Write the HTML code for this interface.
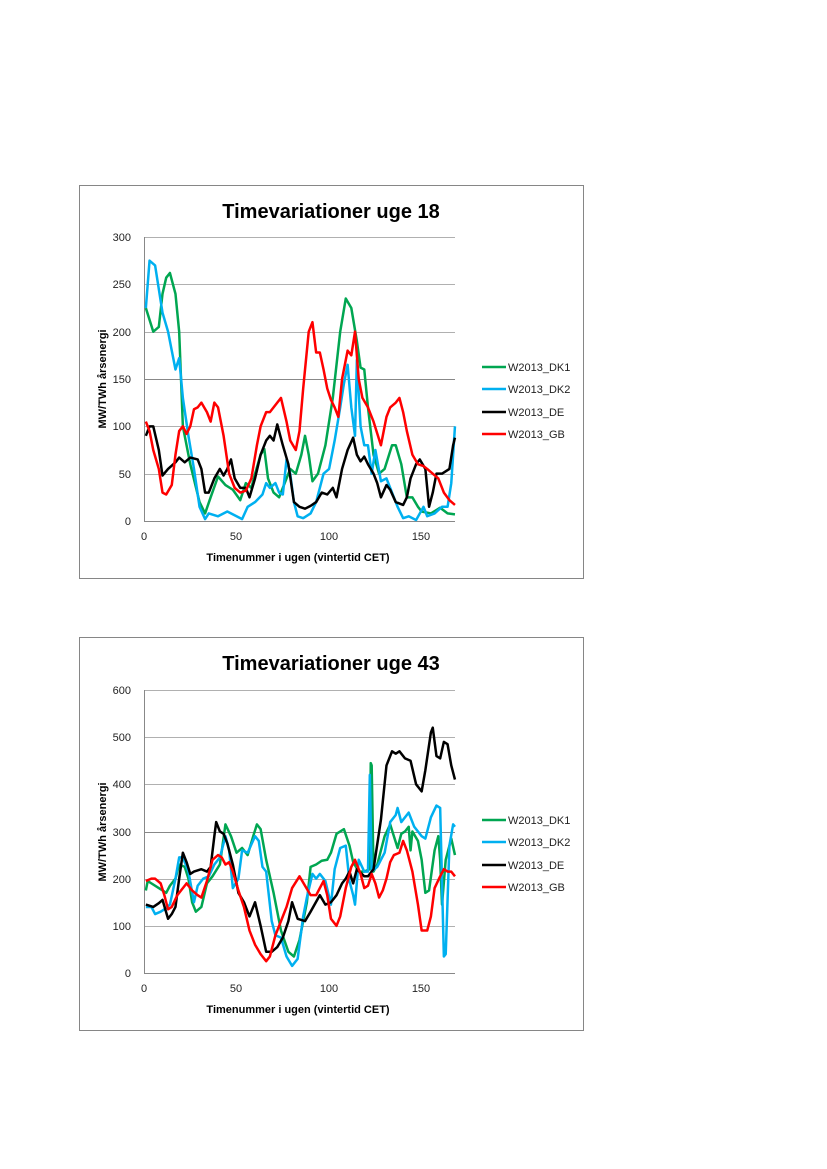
<!DOCTYPE html>
<html><head><meta charset="utf-8"><style>
body{margin:0;background:#fff;}
svg{display:block;}
text{font-family:"Liberation Sans",sans-serif;}
</style></head><body>
<svg width="827" height="1169" viewBox="0 0 827 1169" xmlns="http://www.w3.org/2000/svg">
<rect width="827" height="1169" fill="#fff"/>
<!-- Chart 1 -->
<rect x="79.5" y="185.5" width="504" height="393" fill="#fff" stroke="#868686" stroke-width="1"/>
<text x="331" y="218" font-size="20" font-weight="bold" text-anchor="middle">Timevariationer uge 18</text>
<g stroke="#b0b0b0" stroke-width="1">
<line x1="144" y1="237.5" x2="455" y2="237.5"/><line x1="144" y1="284.5" x2="455" y2="284.5"/><line x1="144" y1="332.5" x2="455" y2="332.5"/><line x1="144" y1="379.5" x2="455" y2="379.5" stroke="#888"/><line x1="144" y1="426.5" x2="455" y2="426.5"/><line x1="144" y1="474.5" x2="455" y2="474.5"/><line x1="144" y1="521.5" x2="455" y2="521.5" stroke="#888"/>
<line x1="144.5" y1="237" x2="144.5" y2="521" stroke="#888"/>
</g>
<g font-size="11" fill="#222" text-anchor="end">
<text x="131" y="241">300</text><text x="131" y="288">250</text><text x="131" y="336">200</text><text x="131" y="383">150</text><text x="131" y="430">100</text><text x="131" y="478">50</text><text x="131" y="525">0</text>
</g>
<g font-size="11" fill="#222" text-anchor="middle">
<text x="144" y="540">0</text><text x="236" y="540">50</text><text x="329" y="540">100</text><text x="421" y="540">150</text>
</g>
<text x="298" y="561" font-size="11" font-weight="bold" text-anchor="middle">Timenummer i ugen (vintertid CET)</text>
<text transform="translate(106,379) rotate(-90)" font-size="11" font-weight="bold" text-anchor="middle">MW/TWh årsenergi</text>
<g transform="translate(144,521) scale(1.851,-0.9467)" fill="none" stroke-width="2.5" stroke-linejoin="round">
<polyline vector-effect="non-scaling-stroke" stroke="#00a651" points="1,225 5,200 8,205 10,240 12,257 14,262 17,240 19,200 21,100 25,60 30,20 33,8 36,25 40,47 44,38 48,33 52,22 55,40 58,35 60,50 63,70 65,76 67,45 70,30 73,25 76,40 79,55 82,50 85,70 87,90 89,70 91,42 94,50 98,80 102,130 106,200 109,235 112,225 115,190 117,162 119,160 121,120 124,70 127,50 130,55 134,80 136,80 139,60 142,25 145,25 148,15 150,10 155,8 160,14 164,8 168,7"/>
<polyline vector-effect="non-scaling-stroke" stroke="#00b0f0" points="1,225 3,275 6,270 8,245 10,220 13,200 15,180 17,160 19,172 21,130 24,90 27,55 30,15 33,2 35,8 40,5 45,10 50,5 53,2 56,15 60,20 64,28 66,40 68,35 71,40 73,30 75,28 77,65 79,50 81,20 83,5 86,3 90,8 93,20 97,50 100,55 103,85 106,120 108,145 110,165 112,120 114,90 115,170 117,100 119,80 121,80 123,50 125,75 128,42 131,45 133,35 137,15 140,3 143,5 147,1 151,15 153,5 157,8 161,15 164,15 166,40 168,100"/>
<polyline vector-effect="non-scaling-stroke" stroke="#000" points="1,90 3,100 5,100 8,75 10,48 13,55 17,62 19,67 22,62 25,67 29,65 31,55 33,30 35,30 38,45 41,55 43,48 45,55 47,65 49,45 52,35 55,35 57,25 60,45 63,70 66,85 68,90 70,85 72,102 75,80 78,60 81,20 84,15 87,13 90,16 93,20 96,30 99,28 102,35 104,25 107,55 110,75 113,88 115,70 117,63 119,68 121,60 124,50 126,40 128,25 131,38 133,33 136,20 140,17 142,25 144,45 147,60 149,65 152,55 154,15 156,30 158,50 161,50 165,55 167,80 168,88"/>
<polyline vector-effect="non-scaling-stroke" stroke="#ff0000" points="1,105 3,95 5,75 8,55 10,30 12,28 15,38 17,70 19,95 21,100 23,92 25,100 27,118 29,120 31,125 34,115 36,105 38,125 40,120 43,90 46,50 49,35 52,30 55,32 58,45 61,80 63,100 66,115 68,115 70,120 72,125 74,130 77,105 79,85 82,75 84,95 86,140 89,200 91,210 93,178 95,178 97,160 99,140 101,128 103,120 105,110 107,150 110,180 112,175 114,200 116,150 118,130 121,120 124,105 128,80 131,110 133,120 136,125 138,130 140,115 142,95 145,70 148,60 151,58 153,55 156,50 159,45 162,30 165,22 168,17"/>
</g>
<g stroke-width="2.5">
<line x1="482" y1="367" x2="506" y2="367" stroke="#00a651"/>
<line x1="482" y1="389" x2="506" y2="389" stroke="#00b0f0"/>
<line x1="482" y1="412" x2="506" y2="412" stroke="#000"/>
<line x1="482" y1="434" x2="506" y2="434" stroke="#ff0000"/>
</g>
<g font-size="11" fill="#222">
<text x="508" y="371">W2013_DK1</text><text x="508" y="393">W2013_DK2</text><text x="508" y="416">W2013_DE</text><text x="508" y="438">W2013_GB</text>
</g>

<!-- Chart 2 -->
<rect x="79.5" y="637.5" width="504" height="393" fill="#fff" stroke="#868686" stroke-width="1"/>
<text x="331" y="670" font-size="20" font-weight="bold" text-anchor="middle">Timevariationer uge 43</text>
<g stroke="#b0b0b0" stroke-width="1">
<line x1="144" y1="690.5" x2="455" y2="690.5"/><line x1="144" y1="737.5" x2="455" y2="737.5"/><line x1="144" y1="784.5" x2="455" y2="784.5"/><line x1="144" y1="832.5" x2="455" y2="832.5" stroke="#888"/><line x1="144" y1="879.5" x2="455" y2="879.5"/><line x1="144" y1="926.5" x2="455" y2="926.5"/><line x1="144" y1="973.5" x2="455" y2="973.5" stroke="#888"/>
<line x1="144.5" y1="690" x2="144.5" y2="973" stroke="#888"/>
</g>
<g font-size="11" fill="#222" text-anchor="end">
<text x="131" y="694">600</text><text x="131" y="741">500</text><text x="131" y="788">400</text><text x="131" y="836">300</text><text x="131" y="883">200</text><text x="131" y="930">100</text><text x="131" y="977">0</text>
</g>
<g font-size="11" fill="#222" text-anchor="middle">
<text x="144" y="992">0</text><text x="236" y="992">50</text><text x="329" y="992">100</text><text x="421" y="992">150</text>
</g>
<text x="298" y="1013" font-size="11" font-weight="bold" text-anchor="middle">Timenummer i ugen (vintertid CET)</text>
<text transform="translate(106,832) rotate(-90)" font-size="11" font-weight="bold" text-anchor="middle">MW/TWh årsenergi</text>
<g transform="translate(144,973) scale(1.851,-0.4717)" fill="none" stroke-width="2.5" stroke-linejoin="round">
<polyline vector-effect="non-scaling-stroke" stroke="#00a651" points="1,175 2,195 4,190 8,180 12,170 14,185 17,200 19,230 22,225 24,200 26,150 28,130 31,140 34,190 37,205 41,230 44,315 47,290 50,255 53,265 56,250 59,290 61,315 63,305 66,240 70,170 74,90 78,45 81,35 84,70 88,150 90,225 93,230 96,238 99,240 101,255 104,295 108,305 111,270 113,235 116,215 119,215 122,220 122.5,445 123,440 124,215 126,230 130,290 133,315 135,290 137,265 139,295 141,300 143,310 144,260 145,300 148,280 150,240 152,170 154,175 157,260 159,290 160,240 161,145 163,240 166,285 168,250"/>
<polyline vector-effect="non-scaling-stroke" stroke="#00b0f0" points="1,140 4,140 6,125 9,130 11,135 14,145 17,200 19,245 21,245 24,215 27,150 29,185 32,200 35,205 38,230 41,245 44,290 46,260 48,180 51,200 53,260 56,255 60,290 62,280 64,225 66,215 69,110 71,80 74,75 77,35 80,15 83,30 86,120 88,160 91,210 93,200 95,210 98,195 101,145 103,220 106,265 109,270 111,195 113,165 114,145 116,240 119,215 121,215 122,420 123,215 126,225 130,255 133,320 136,335 137,350 139,320 143,340 146,310 150,290 152,285 155,330 158,355 160,350 162,35 163,40 165,270 167,315 168,310"/>
<polyline vector-effect="non-scaling-stroke" stroke="#000" points="1,145 5,140 8,148 10,155 13,115 15,125 17,140 19,200 21,255 23,235 25,210 27,215 31,220 34,215 36,225 38,290 39,320 41,300 43,295 45,275 48,230 51,170 54,150 57,120 60,150 63,100 66,45 69,45 72,55 75,75 78,110 80,150 83,115 87,110 90,130 95,165 98,145 101,150 104,165 107,190 109,200 111,215 113,190 115,220 119,205 121,205 124,220 128,325 131,440 134,470 136,465 138,470 141,455 144,450 147,400 150,385 152,430 155,510 156,520 158,460 160,455 162,490 164,485 166,440 168,410"/>
<polyline vector-effect="non-scaling-stroke" stroke="#ff0000" points="1,195 4,200 6,200 9,190 11,165 13,135 15,140 18,165 21,180 23,190 26,175 29,165 31,160 34,195 37,240 40,250 42,245 44,230 46,235 48,215 51,175 54,140 57,90 60,60 63,40 66,25 68,35 71,80 74,110 77,140 80,180 84,205 87,185 90,165 93,165 95,180 97,195 99,165 101,115 104,100 106,120 109,180 112,225 114,240 117,210 119,180 121,185 123,210 125,190 127,160 129,175 131,200 133,235 135,250 138,255 140,280 142,260 145,215 148,145 150,90 153,90 155,120 157,180 160,205 162,220 164,215 166,215 168,205"/>
</g>
<g stroke-width="2.5">
<line x1="482" y1="820" x2="506" y2="820" stroke="#00a651"/>
<line x1="482" y1="842" x2="506" y2="842" stroke="#00b0f0"/>
<line x1="482" y1="865" x2="506" y2="865" stroke="#000"/>
<line x1="482" y1="887" x2="506" y2="887" stroke="#ff0000"/>
</g>
<g font-size="11" fill="#222">
<text x="508" y="824">W2013_DK1</text><text x="508" y="846">W2013_DK2</text><text x="508" y="869">W2013_DE</text><text x="508" y="891">W2013_GB</text>
</g>
</svg>
</body></html>
